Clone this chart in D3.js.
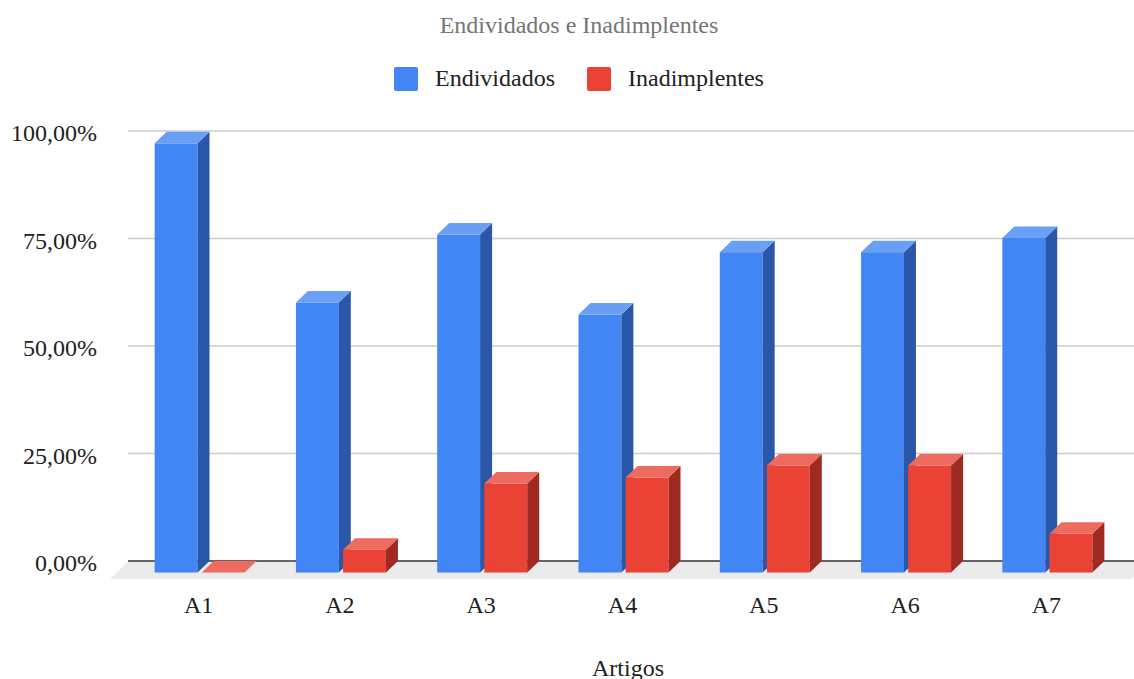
<!DOCTYPE html>
<html>
<head>
<meta charset="utf-8">
<script src="https://cdn.jsdelivr.net/npm/d3@7"></script>
<style>
  html, body { margin: 0; padding: 0; background: #ffffff; }
  svg { display: block; }
  svg text { font-family: 'Liberation Serif', 'DejaVu Serif', serif !important; }
</style>
</head>
<body>
<script>
// Chart data
const categories = ["A1", "A2", "A3", "A4", "A5", "A6", "A7"];
const seriesNames = ["Endividados", "Inadimplentes"];
const endividados = [0.998, 0.628, 0.786, 0.600, 0.745, 0.745, 0.778];
const inadimplentes = [0.0, 0.053, 0.207, 0.221, 0.249, 0.249, 0.090];
const yTicks = [0, 0.25, 0.5, 0.75, 1.0];
const titleText = "Endividados e Inadimplentes";
const xAxisTitle = "Artigos";

// Face colours per series: front, side, top
const palette = {
  Endividados:   { front: "#4285f4", side: "#2b57a8", top: "#6a9ff6" },
  Inadimplentes: { front: "#ea4335", side: "#9e2a21", top: "#ee6b5f" }
};

const SERIF = "'Liberation Serif', 'DejaVu Serif', serif";
const FS = 24;
const W = 1134, H = 679;
const depthX = 12, depthY = 11.5;   // 3D extrusion offset
const svg = d3.select("body").append("svg").attr("width", W).attr("height", H)
  .attr("font-family", SERIF);

const x = d3.scaleBand().domain(categories).range([128, 1117]);
const y = d3.scaleLinear().domain([0, 1]).range([561, 131]);
const inner = d3.scaleBand().domain(seriesNames).range([0, 90]).paddingInner(0.09);

const fmt = v => d3.format(".2f")(v * 100).replace(".", ",") + "%";

// Title
svg.append("text")
  .attr("x", 579).attr("y", 33)
  .attr("text-anchor", "middle")
  .attr("fill", "#757575")
  .attr("font-size", FS)
  .text(titleText);

// Legend
const legendX = [394, 587];
seriesNames.forEach((s, i) => {
  const g = svg.append("g").attr("transform", `translate(${legendX[i]},67)`);
  g.append("rect").attr("width", 24).attr("height", 24).attr("rx", 2)
    .attr("fill", palette[s].front);
  g.append("text").attr("x", 41).attr("y", 19)
    .attr("font-size", FS).attr("fill", "#222").text(s);
});

// Floor
const floorY0 = y(0);
svg.append("path")
  .attr("d", `M128,${floorY0} L1134,${floorY0} L1134,${floorY0 + 14} Q1134,${floorY0 + 18} 1128,${floorY0 + 18} L110,${floorY0 + 18} Z`)
  .attr("fill", "#ebebeb");

// Gridlines (non-zero)
svg.append("g").selectAll("line")
  .data(yTicks.filter(t => t > 0))
  .join("line")
  .attr("x1", 128).attr("x2", 1134)
  .attr("y1", d => y(d)).attr("y2", d => y(d))
  .attr("stroke", "#cccccc").attr("stroke-width", 1.5);

// Baseline
svg.append("line")
  .attr("x1", 128).attr("x2", 1134)
  .attr("y1", y(0)).attr("y2", y(0))
  .attr("stroke", "#333333").attr("stroke-width", 1.5);

// Y axis labels
const yAxis = d3.axisLeft(y).tickValues(yTicks).tickFormat(fmt).tickSize(0).tickPadding(0);
const yg = svg.append("g").attr("transform", "translate(97,1)").call(yAxis)
  .attr("font-family", SERIF).attr("font-size", FS);
yg.select(".domain").remove();
yg.selectAll("text").attr("fill", "#222").attr("dy", "0.36em");

// X axis labels
const xAxis = d3.axisBottom(x).tickSize(0).tickPadding(0);
const xg = svg.append("g").attr("transform", "translate(0,613)").call(xAxis)
  .attr("font-family", SERIF).attr("font-size", FS);
xg.select(".domain").remove();
xg.selectAll("text").attr("fill", "#222").attr("dy", 0);

// 3D bars
const rows = [];
categories.forEach((c, i) => {
  rows.push({ cat: c, series: "Endividados", value: endividados[i] });
  rows.push({ cat: c, series: "Inadimplentes", value: inadimplentes[i] });
});

const barW = inner.bandwidth();
const bars = svg.append("g").selectAll("g").data(rows).join("g");

bars.each(function (d) {
  const g = d3.select(this);
  const x0 = x(d.cat) + x.bandwidth() / 2 - 45 + 1 + inner(d.series);
  const x1 = x0 + barW;
  const yTop = y(d.value) + depthY;   // front face top
  const yBot = y(0) + depthY;         // front face bottom
  const c = palette[d.series];
  // front
  g.append("rect").attr("x", x0).attr("y", yTop)
    .attr("width", barW).attr("height", Math.max(0, yBot - yTop))
    .attr("fill", c.front);
  // side
  g.append("path")
    .attr("d", `M${x1},${yTop} L${x1 + depthX},${yTop - depthY} L${x1 + depthX},${yBot - depthY} L${x1},${yBot} Z`)
    .attr("fill", c.side);
  // top
  g.append("path")
    .attr("d", `M${x0},${yTop} L${x0 + depthX},${yTop - depthY} L${x1 + depthX},${yTop - depthY} L${x1},${yTop} Z`)
    .attr("fill", c.top);
});

// X axis title
svg.append("text")
  .attr("x", 628).attr("y", 676)
  .attr("text-anchor", "middle")
  .attr("font-size", FS).attr("fill", "#222")
  .text(xAxisTitle);
</script>
</body>
</html>
